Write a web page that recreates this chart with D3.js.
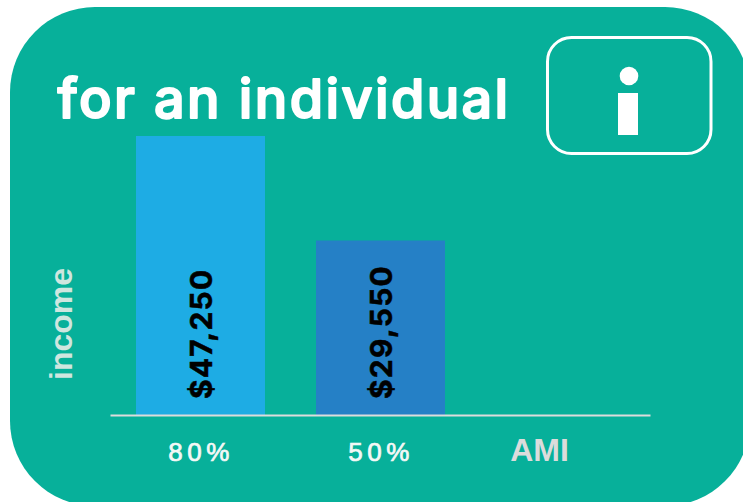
<!DOCTYPE html>
<html><head><meta charset="utf-8">
<script src="https://cdn.jsdelivr.net/npm/d3@7"></script>
<style>html,body{margin:0;padding:0;background:#fff;overflow:hidden}svg{display:block}</style>
</head><body><svg id="c" width="743" height="502"></svg>
<script>
const categories = ["80%", "50%", "AMI"];
const barCategories = ["80%", "50%"];
const values = [47250, 29550];
const valueLabels = ["$47,250", "$29,550"];
const barColors = ["#1eace4", "#2580c6"];
const titleText = "for an individual";
const yTitle = "income";
const amiLabel = "AMI";

const svg = d3.select("#c");
svg.append("rect").attr("x",10).attr("y",7).attr("width",740).attr("height",499).attr("rx",85).attr("ry",85).attr("fill","#07b09a");

const x = d3.scaleBand().domain(categories).range([110.5,650.5]).paddingInner(0.2833).paddingOuter(0.1417);
const y = d3.scaleLinear().domain([0,47250]).range([415,136]);

svg.selectAll("rect.bar").data(barCategories).join("rect").attr("class","bar")
  .attr("x",d=>x(d)).attr("width",x.bandwidth())
  .attr("y",(d,i)=>y(values[i])).attr("height",(d,i)=>y(0)-y(values[i]))
  .attr("fill",(d,i)=>barColors[i]);

svg.selectAll("text.val").data(barCategories).join("text").attr("class","val")
  .attr("transform",d=>`translate(${x(d)+x.bandwidth()/2+11},399) rotate(-90)`)
  .attr("font-family","Inter").attr("font-weight",700).attr("font-size",30).attr("letter-spacing",1.2)
  .attr("fill","#000").attr("stroke","#000").attr("stroke-width",0.5).text((d,i)=>valueLabels[i]);

const ax = svg.append("g").attr("transform","translate(-0.5,415)").call(d3.axisBottom(x).tickSize(0).tickValues(barCategories));
ax.select(".domain").attr("stroke","#dcdcdc").attr("stroke-width",2);
ax.selectAll(".tick text").attr("y",0).attr("dy",0).attr("transform","translate(1,46)")
  .attr("font-family","'Liberation Sans'").attr("font-size",26).attr("letter-spacing",4.5).attr("fill","#f4f8f6")
  .attr("stroke","#f4f8f6").attr("stroke-width",0.7).attr("text-anchor","middle");

svg.append("text").attr("x",539.5).attr("y",461).attr("text-anchor","middle")
  .attr("font-family","'Liberation Sans'").attr("font-weight",700).attr("font-size",32).attr("fill","#dcdcdc").text(amiLabel);

svg.append("text").attr("transform","translate(72,380) rotate(-90)")
  .attr("font-family","'Liberation Sans'").attr("font-weight",700).attr("font-size",32).attr("fill","#cfe6df").text(yTitle);

svg.append("text").attr("x",57.5).attr("y",117.5).attr("font-family","Inter").attr("font-weight",500)
  .attr("font-size",54).attr("letter-spacing",2.4).attr("fill","#fff").attr("stroke","#fff").attr("stroke-width",2).attr("stroke-linejoin","round").text(titleText);

const icon = svg.append("g");
icon.append("rect").attr("x",547.5).attr("y",37.5).attr("width",163.5).attr("height",116).attr("rx",24).attr("fill","none").attr("stroke","#fff").attr("stroke-width",3);
icon.append("circle").attr("cx",629).attr("cy",76).attr("r",9.3).attr("fill","#fff");
icon.append("rect").attr("x",618).attr("y",93).attr("width",20).attr("height",42).attr("fill","#fff");
</script></body></html>
